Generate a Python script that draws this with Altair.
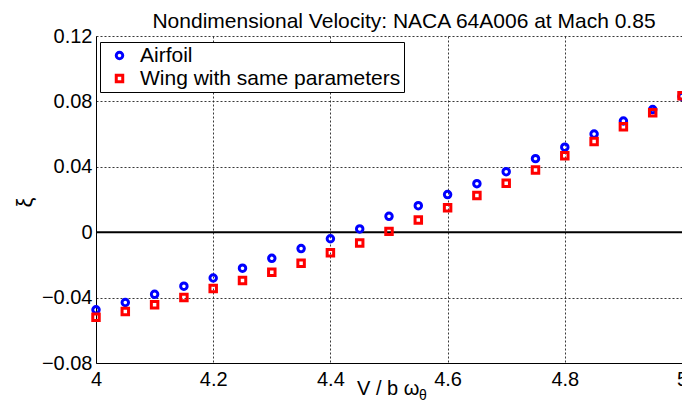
import altair as alt
import pandas as pd

# ---- data ----
x_vals = [4.00, 4.05, 4.10, 4.15, 4.20, 4.25, 4.30, 4.35, 4.40, 4.45, 4.50,
          4.55, 4.60, 4.65, 4.70, 4.75, 4.80, 4.85, 4.90, 4.95, 5.00]
airfoil = [-0.0475, -0.043, -0.038, -0.033, -0.028, -0.022, -0.016, -0.010, -0.004, 0.002, 0.0097,
           0.0162, 0.023, 0.0297, 0.037, 0.045, 0.052, 0.060, 0.068, 0.075, 0.083]
wing = [-0.052, -0.0485, -0.0444, -0.040, -0.0345, -0.0296, -0.0245, -0.019, -0.0126, -0.0066, 0.0005,
        0.0075, 0.015, 0.0224, 0.030, 0.038, 0.0467, 0.0555, 0.0645, 0.073, 0.0835]
series_names = ["Airfoil", "Wing with same parameters"]
x_ticks = [4.0, 4.2, 4.4, 4.6, 4.8, 5.0]
y_ticks = [-0.08, -0.04, 0.0, 0.04, 0.08, 0.12]
title_text = "Nondimensional Velocity: NACA 64A006 at Mach 0.85"
x_title = "V / b \u03c9"
x_title_sub = "\u03b8"
y_title = "\u03be"

FONT = "Liberation Sans"

rows = []
for name, vals in zip(series_names, [airfoil, wing]):
    for xv, yv in zip(x_vals, vals):
        rows.append({"v": xv, "xi": yv, "series": name})
df = pd.DataFrame(rows)

legend = alt.Legend(
    orient="none", legendX=4, legendY=6, title=None,
    labelFontSize=21, labelFont=FONT, labelColor="black", labelLimit=600,
    padding=3, rowPadding=1, symbolOffset=6, labelOffset=10,
    symbolSize=42, symbolStrokeWidth=3,
    strokeColor="black", fillColor="white",
)

xs = alt.X("v:Q", scale=alt.Scale(domain=[4, 5], nice=False, zero=False),
           axis=alt.Axis(values=x_ticks, format="~g", title=None, labelPadding=6,
                         labelFlush=False))
ys = alt.Y("xi:Q", scale=alt.Scale(domain=[-0.08, 0.12], nice=False),
           axis=alt.Axis(values=y_ticks, title=y_title, labelPadding=4,
                         titleFont=FONT, titleFontSize=22, titleFontWeight="normal",
                         titleColor="black", titleAngle=270, titleX=-72, titleY=166,
                         titleAlign="center", titleBaseline="middle",
                         labelExpr="datum.value == 0 ? '0' : format(datum.value, '.2f')"))

points = alt.Chart(df).mark_point(filled=False, strokeWidth=3, size=42, opacity=1).encode(
    x=xs, y=ys,
    color=alt.Color("series:N", scale=alt.Scale(domain=series_names, range=["#0000ff", "#ff0000"]), legend=legend),
    shape=alt.Shape("series:N", scale=alt.Scale(domain=series_names, range=["circle", "square"]), legend=legend),
)

zero = alt.Chart(pd.DataFrame({"z": [0.0]})).mark_rule(color="black", strokeWidth=2).encode(
    y=alt.Y("z:Q", title=y_title))

def label(text, x, y, size=20, align="left", baseline="alphabetic"):
    return alt.Chart(pd.DataFrame({"t": [text]})).mark_text(
        font=FONT, fontSize=size, color="black", align=align, baseline=baseline
    ).encode(text="t:N", x=alt.value(x), y=alt.value(y))

title = label(title_text, 308, -8, size=21, align="center")
xt = label(x_title, 261, 359, size=20)
xsub = label(x_title_sub, 323, 364, size=14)

chart = alt.layer(zero, points, title, xt, xsub).properties(
    width=586, height=327,
    padding={"left": 88, "top": 28, "right": 0, "bottom": 41},
    autosize=alt.AutoSizeParams(type="none"),
).configure_view(stroke=None).configure_axis(
    labelFont=FONT, labelFontSize=20, labelColor="black",
    domainColor="black", domainWidth=1, ticks=False,
    grid=True, gridColor="#222222", gridDash=[2, 2], gridWidth=1, gridOpacity=0.9,
)

chart.save("out.html", embed_options={"renderer": "svg", "actions": False})
